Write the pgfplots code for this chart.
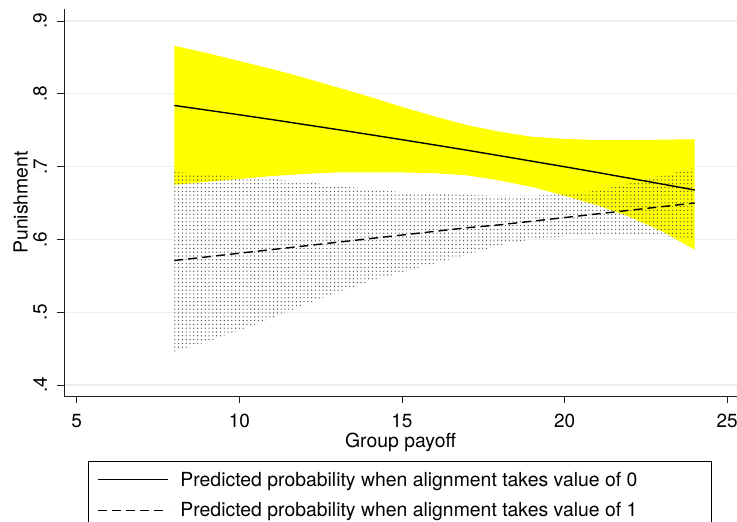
\documentclass[border=0pt]{standalone}
\usepackage{fontspec}
\setmainfont{TeX Gyre Heros}
\usepackage{pgfplots}
\pgfplotsset{compat=1.18}
\usepackage{pgfplotstable}
\usepgfplotslibrary{fillbetween}
\usetikzlibrary{patterns.meta}
\definecolor{gridc}{RGB}{231,239,241}
\definecolor{axc}{RGB}{30,30,30}
\definecolor{dotc}{RGB}{80,80,80}
\definecolor{bandyellow}{RGB}{255,255,0}

\pgfplotstableread{
x m0 l0 u0 m1 l1 u1
8 .7840 .675 .866 .571 .446 .693
9 .7776 .679 .856 .576 .459 .689
10 .7712 .683 .845 .581 .475 .686
11 .7646 .687 .834 .586 .492 .683
12 .7578 .690 .822 .591 .510 .679
13 .7510 .692 .809 .596 .527 .674
14 .7440 .692 .796 .601 .542 .669
15 .7370 .692 .782 .606 .555 .665
16 .7298 .691 .769 .611 .567 .663
17 .7225 .688 .757 .616 .579 .661
18 .7150 .681 .748 .620 .592 .660
19 .7074 .672 .741 .625 .600 .660
20 .6998 .660 .738 .630 .604 .662
21 .6920 .647 .7365 .635 .605 .667
22 .6840 .631 .7365 .640 .605 .677
23 .6760 .611 .737 .645 .604 .688
24 .6678 .586 .7376 .650 .602 .698
}\data

\newcommand\tickfont{\fontsize{19bp}{22bp}\selectfont}
\newcommand\labfont{\fontsize{19.4bp}{23bp}\selectfont}

\begin{document}
\begin{tikzpicture}
\begin{axis}[
  at={(64bp,126bp)}, anchor=south west,
  scale only axis, width=673bp, height=387bp,
  xmin=4.61, xmax=25.30, ymin=0.3849, ymax=0.9165,
  axis lines*=left,
  axis line style={axc, line width=0.9bp},
  tick style={axc, line width=0.9bp},
  tick align=outside, major tick length=7bp,
  xtick={5,10,15,20,25}, xticklabels={5,10,15,20,25},
  ytick={0.4,0.5,0.6,0.7,0.8,0.9}, yticklabels={.4,.5,.6,.7,.8,.9},
  ymajorgrids, grid style={gridc, line width=1.3bp},
  xticklabel style={font=\tickfont, yshift=-11bp, anchor=north, inner sep=0pt},
  yticklabel style={font=\tickfont, xshift=-10bp, rotate=90, anchor=south, inner sep=0pt},
  xlabel={Group payoff}, ylabel={Punishment},
  xlabel style={font=\labfont, at={(axis description cs:0.5,-0.0946)}, anchor=north, inner sep=0pt},
  ylabel style={font=\labfont, at={(axis description cs:-0.0535,0.5)}, rotate=0, anchor=south, inner sep=0pt},
  legend style={at={(axis description cs:0.0361,-0.1668)}, anchor=north west,
    draw=black, line width=0.8bp, font=\labfont, fill=white,
    inner xsep=8.4bp, inner ysep=9bp, row sep=11bp,
    cells={anchor=west, inner sep=0pt},
    /tikz/every odd column/.append style={column sep=10bp}},
  legend cell align=left,
  legend image code/.code={\draw[#1] (0bp,0bp) -- (70bp,0bp);},
]
\addplot[draw=none, name path=u0, forget plot] table[x=x, y=u0]{\data};
\addplot[draw=none, name path=l0, forget plot] table[x=x, y=l0]{\data};
\addplot[draw=none, name path=u1, forget plot] table[x=x, y=u1]{\data};
\addplot[draw=none, name path=l1, forget plot] table[x=x, y=l1]{\data};
\addplot[fill=bandyellow, draw=none, forget plot] fill between[of=u0 and l0];
\addplot[pattern={Dots[distance=3.8bp, radius=0.7bp]}, pattern color=dotc, draw=none, forget plot] fill between[of=u1 and l1];
\addplot[black, line width=1.4bp] table[x=x, y=m0]{\data};
\addlegendentry{Predicted probability when alignment takes value of 0\hspace*{64bp}}
\addplot[black, line width=1.4bp, dash pattern=on 9bp off 5bp] table[x=x, y=m1]{\data};
\addlegendentry{Predicted probability when alignment takes value of 1\hspace*{64bp}}
\end{axis}
\pgfresetboundingbox
\path[use as bounding box] (0,0) rectangle (737bp,522bp);
\end{tikzpicture}
\end{document}
